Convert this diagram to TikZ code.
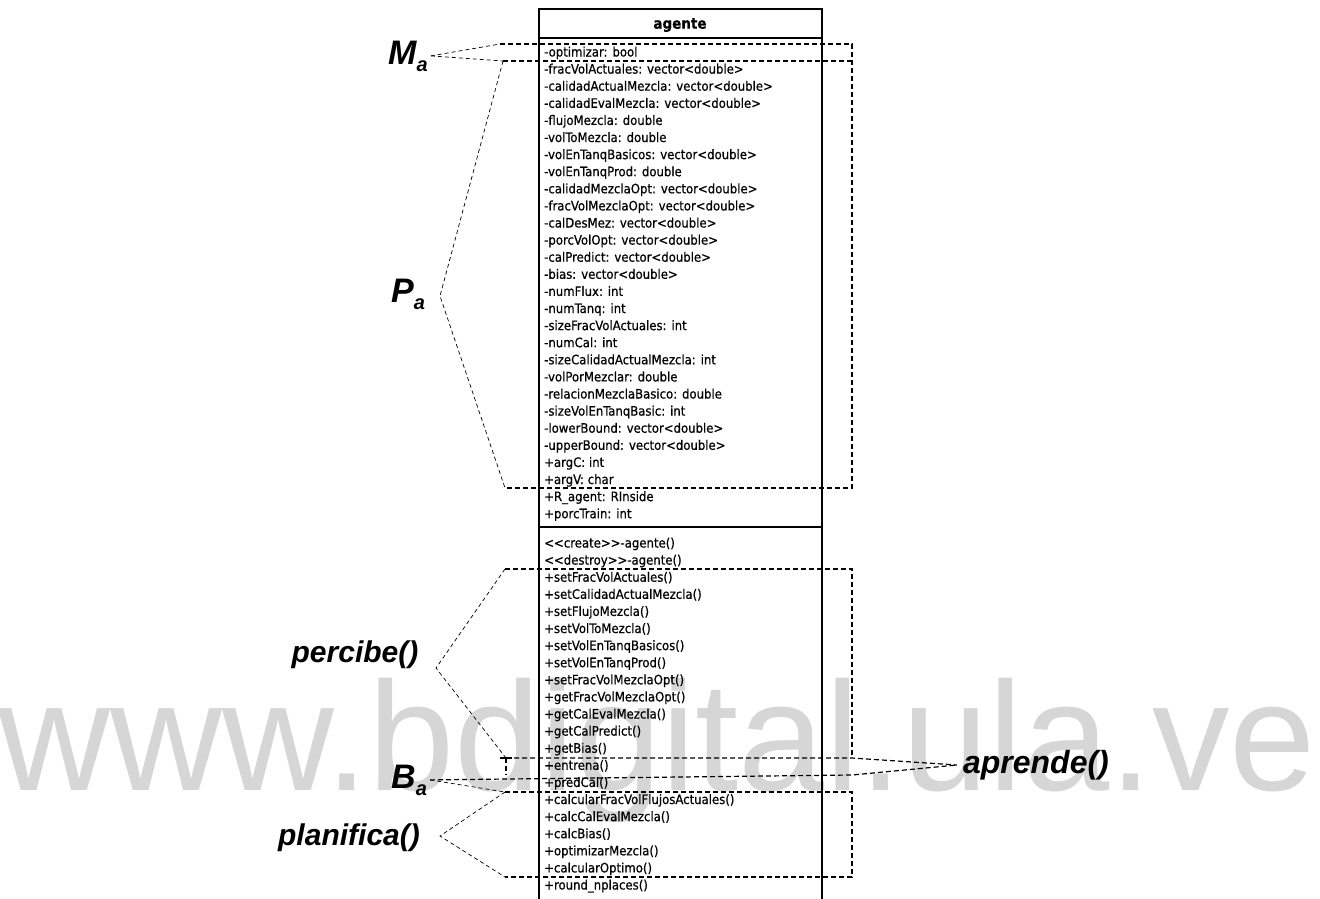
\documentclass[tikz,border=0pt]{standalone}
\usepackage{fontspec}
\setmainfont{Liberation Sans}
\newfontfamily\umlfont{DejaVu Sans Condensed}[FakeBold=0.6]
\newcommand\lblsub[1]{\raisebox{-7pt}{\fontsize{20}{20}\selectfont #1}}
\begin{document}
\begin{tikzpicture}[x=1pt,y=-1pt,
  umltext/.style={anchor=base west,inner sep=0pt,font=\umlfont\fontsize{13}{13}\selectfont},
  lbl/.style={inner sep=0pt,font=\fontsize{30}{30}\selectfont\bfseries\itshape},
  letter/.style={inner sep=0pt,font=\fontsize{34}{34}\selectfont\bfseries\itshape},
  dl/.style={dash pattern=on 5pt off 3pt,line width=1.2pt},
  dd/.style={dash pattern=on 4pt off 3pt,line width=0.7pt},
  boxline/.style={line width=1.8pt}]
\useasboundingbox (0,0) rectangle (1320,898);
\clip (0,0) rectangle (1320,898);
% watermark
\node[anchor=base west,inner sep=0pt,text=black!16,font=\fontsize{155}{155}\selectfont] (wm) at (-2,790) {www.bdigital.ula.ve};
% class box
\draw[boxline] (539,905) -- (539,9) -- (822,9) -- (822,905);
\draw[boxline] (539,38) -- (822,38);
\draw[boxline] (539,527) -- (822,527);
\node[inner sep=0pt,font=\umlfont\bfseries\fontsize{15}{15}\selectfont] (name) at (680,25) {agente};
\foreach \t [count=\i] in {-optimizar: bool,-fracVolActuales: vector<double>,-calidadActualMezcla: vector<double>,-calidadEvalMezcla: vector<double>,-flujoMezcla: double,-volToMezcla: double,-volEnTanqBasicos: vector<double>,-volEnTanqProd: double,-calidadMezclaOpt: vector<double>,-fracVolMezclaOpt: vector<double>,-calDesMez: vector<double>,-porcVolOpt: vector<double>,-calPredict: vector<double>,-bias: vector<double>,-numFlux: int,-numTanq: int,-sizeFracVolActuales: int,-numCal: int,-sizeCalidadActualMezcla: int,-volPorMezclar: double,-relacionMezclaBasico: double,-sizeVolEnTanqBasic: int,-lowerBound: vector<double>,-upperBound: vector<double>,+argC: int,+argV: char,+R\_agent: RInside,+porcTrain: int}
  \node[umltext] (a\i) at (544,{56.5+17.1*(\i-1)}) {\t};
\foreach \t [count=\i] in {<{}<create>{}>-agente(),<{}<destroy>{}>-agente(),+setFracVolActuales(),+setCalidadActualMezcla(),+setFlujoMezcla(),+setVolToMezcla(),+setVolEnTanqBasicos(),+setVolEnTanqProd(),+setFracVolMezclaOpt(),+getFracVolMezclaOpt(),+getCalEvalMezcla(),+getCalPredict(),+getBias(),+entrena(),+predCal(),+calcularFracVolFlujosActuales(),+calcCalEvalMezcla(),+calcBias(),+optimizarMezcla(),+calcularOptimo(),+round\_nplaces()}
  \node[umltext] (o\i) at (544,{547.5+17.1*(\i-1)}) {\t};
% labels
\node[letter,anchor=base west] (Ma) at (388,64) {M\lblsub{a}};
\node[letter,anchor=base west] (Pa) at (391,302) {P\lblsub{a}};
\node[letter,anchor=base west] (Ba) at (391,788) {B\lblsub{a}};
\node[lbl] (perc) at (355,655) {percibe()};
\node[lbl] (plan) at (349,838) {planifica()};
\node[lbl,font=\fontsize{32}{32}\selectfont\bfseries\itshape] (apr) at (1036,765) {aprende()};
% coordinates
\coordinate (m1) at (500,44);
\coordinate (m2) at (503,61);
\coordinate (mR1) at (852,44);
\coordinate (mR2) at (852,61);
\coordinate (pB) at (505,488);
\coordinate (pR) at (852,488);
\coordinate (pApex) at (440,296);
\coordinate (c1) at (505,569);
\coordinate (cR1) at (852,569);
\coordinate (cApex) at (436,668);
\coordinate (c2) at (506,758);
\coordinate (c2b) at (506,775);
\coordinate (cR2) at (852,758);
\coordinate (bR) at (852,775);
\coordinate (pl1) at (505,792);
\coordinate (plR1) at (852,792);
\coordinate (plR2) at (852,877);
\coordinate (pl2) at (505,877);
\coordinate (plApex) at (440,836);
% M_a
\draw[dd] ([xshift=3pt]Ma.east) -- (m1);
\draw[dd] ([xshift=3pt]Ma.east) -- (m2);
\draw[dl] (m1) -- (mR1) -- (pR) -- (pB);
\draw[dl] (m2) -- (mR2);
% P_a
\draw[dd] (m2) -- (pApex) -- (pB);
% percibe
\draw[dd] (c1) -- (cApex) -- (c2);
\draw[dl] (c1) -- (cR1) -- (cR2);
\draw[dl] (c2) -- (c2b);
\draw[line width=1.2pt] (500,758) -- (512,758);
% aprende
\draw[dl] (c2) -- (cR2) -- ([xshift=-6pt]apr.west);
\draw[dl] ([xshift=3pt]Ba.east) -- (bR) -- ([xshift=-6pt]apr.west);
% B_a and planifica
\draw[dd] ([xshift=3pt]Ba.east) -- (pl1);
\draw[dl] (pl1) -- (plR1) -- (plR2) -- (pl2);
\draw[dd] (pl1) -- (plApex) -- (pl2);
\end{tikzpicture}
\end{document}
